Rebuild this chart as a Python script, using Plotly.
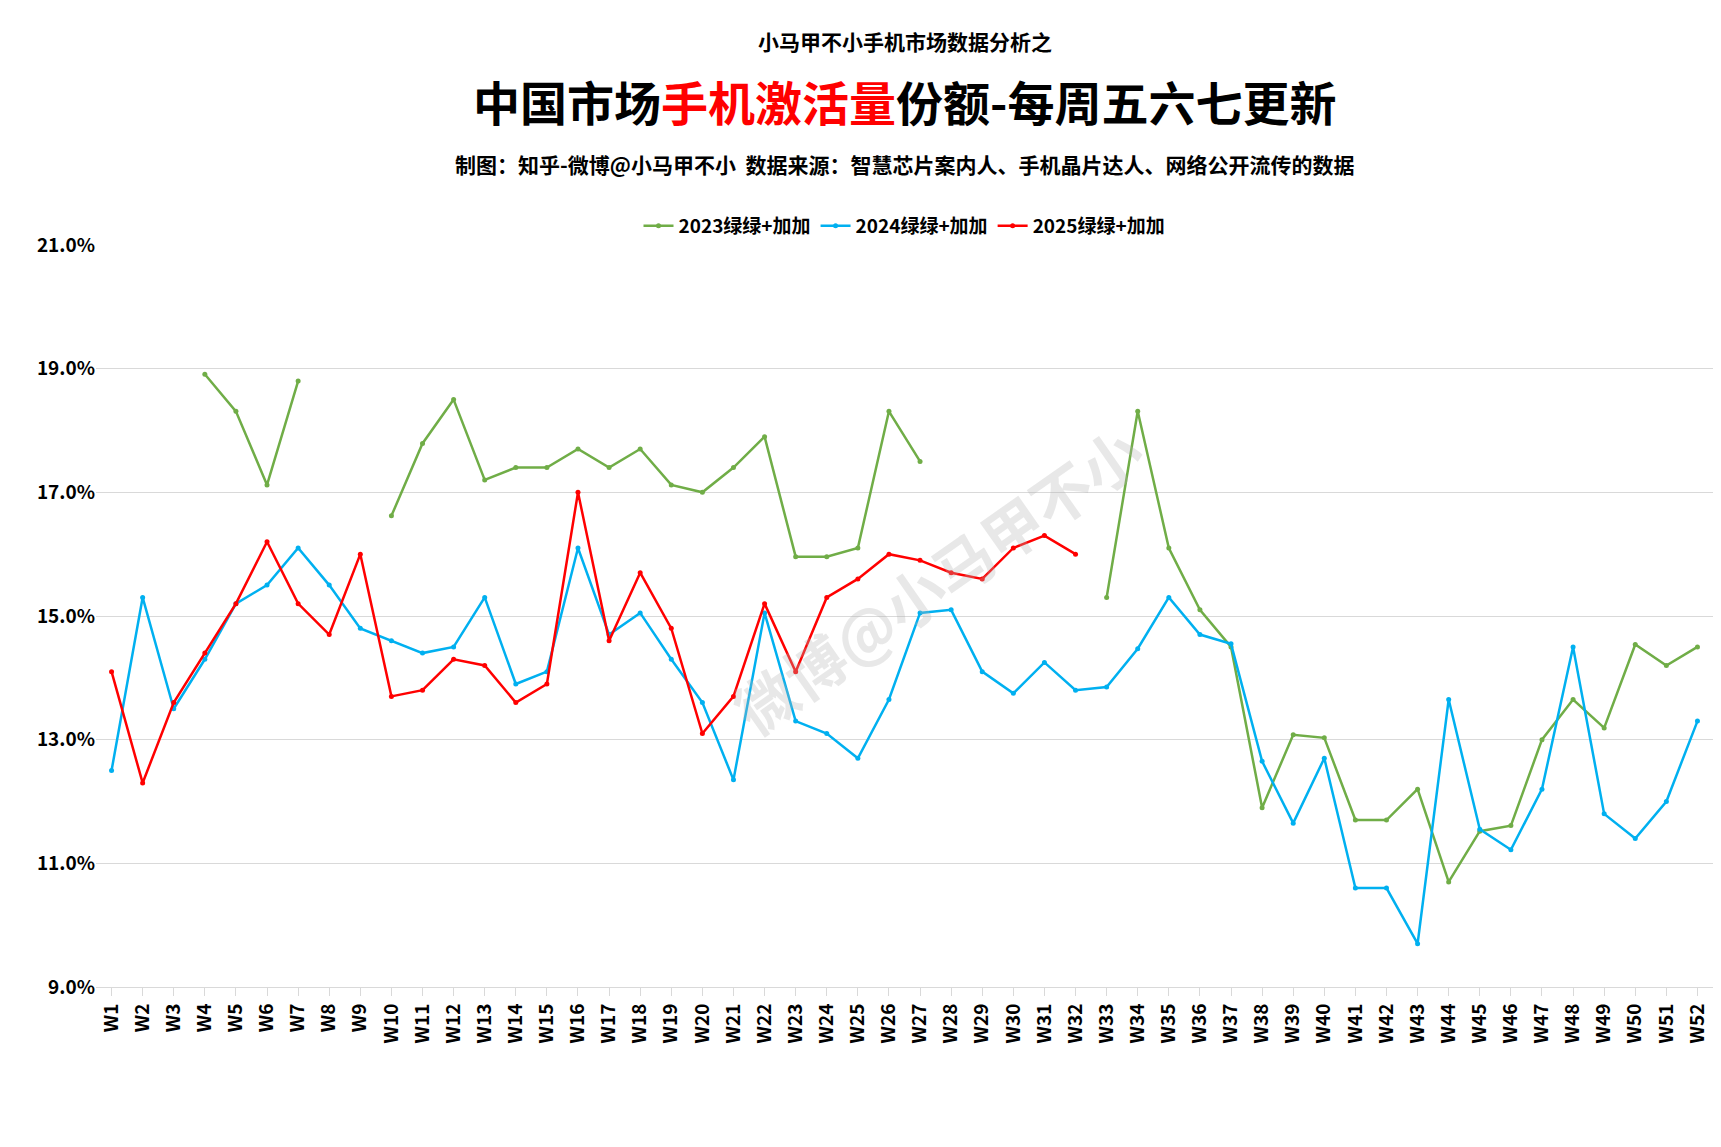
import plotly.graph_objects as go

weeks = ["W%d" % i for i in range(1, 53)]

s2023 = [None, None, None, 18.91, 18.31, 17.12, 18.80, None, None, 16.62,
         17.79, 18.50, 17.20, 17.40, 17.40, 17.70, 17.40, 17.70, 17.12, 17.00,
         17.40, 17.90, 15.96, 15.96, 16.10, 18.31, 17.50, None, None, None,
         None, None, 15.30, 18.31, 16.10, 15.10, 14.50, 11.90, 13.08, 13.03,
         11.70, 11.70, 12.20, 10.70, 11.52, 11.61, 13.00, 13.65, 13.19, 14.54,
         14.20, 14.50]

s2024 = [12.50, 15.30, 13.50, 14.30, 15.20, 15.50, 16.10, 15.50, 14.80, 14.60,
         14.40, 14.50, 15.30, 13.90, 14.10, 16.10, 14.70, 15.05, 14.30, 13.60,
         12.35, 15.05, 13.30, 13.10, 12.70, 13.65, 15.05, 15.10, 14.10, 13.75,
         14.25, 13.80, 13.85, 14.47, 15.30, 14.70, 14.55, 12.65, 11.65, 12.70,
         10.60, 10.60, 9.70, 13.65, 11.55, 11.22, 12.20, 14.50, 11.80, 11.40,
         12.00, 13.30]

s2025 = [14.10, 12.30, 13.60, 14.40, 15.20, 16.20, 15.20, 14.70, 16.00, 13.70,
         13.80, 14.30, 14.20, 13.60, 13.90, 17.00, 14.60, 15.70, 14.80, 13.10,
         13.70, 15.20, 14.10, 15.30, 15.60, 16.00, 15.90, 15.70, 15.60, 16.10,
         16.30, 16.00]

series = [("2023绿绿+加加", s2023, "#70AD47"),
          ("2024绿绿+加加", s2024, "#00B0F0"),
          ("2025绿绿+加加", s2025, "#FF0000")]

font = "Noto Sans CJK SC"
W, H = 1721, 1147
T, B = 237, 168
fig = go.Figure()
for name, vals, color in series:
    fig.add_trace(go.Scatter(
        x=weeks[:len(vals)], y=vals, name=name, mode="lines+markers",
        line=dict(color=color, width=2.5), marker=dict(size=5, color=color),
        connectgaps=False))

ph = H - T - B


def py(pix):
    # pixel from top -> paper y
    return (H - B - pix) / ph


fig.update_layout(
    width=W, height=H,
    plot_bgcolor="white", paper_bgcolor="white",
    margin=dict(l=88, r=16, t=T, b=B),
    font=dict(family=font, color="black"),
    legend=dict(orientation="h", x=0.5, xanchor="center", y=1.0, yanchor="bottom",
                font=dict(size=19, family=font, weight="bold")),
    annotations=[
        dict(text="<b>小马甲不小手机市场数据分析之</b>", x=0.5, y=py(33), yanchor="middle",
             xref="paper", yref="paper", showarrow=False, font=dict(size=21)),
        dict(text="<b>中国市场<span style='color:#FF0000'>手机激活量</span>份额-每周五六七更新</b>",
             x=0.5, y=py(93), yanchor="middle", xref="paper", yref="paper",
             showarrow=False, font=dict(size=47)),
        dict(text="<b>制图：知乎-微博@小马甲不小  数据来源：智慧芯片案内人、手机晶片达人、网络公开流传的数据</b>",
             x=0.5, y=py(156), yanchor="middle", xref="paper", yref="paper",
             showarrow=False, font=dict(size=21)),
        dict(text="<b>微博@小马甲不小</b>", x=0.52, y=0.55, xref="paper", yref="paper",
             showarrow=False, textangle=-35, font=dict(size=60, color="rgba(180,180,180,0.3)")),
    ],
)

fig.update_xaxes(type="category", range=[-0.5, 51.5], tickangle=-90,
                 tickfont=dict(size=19, family=font, weight="bold"),
                 showline=True, linecolor="#d9d9d9", ticks="outside",
                 tickcolor="#d9d9d9", ticklen=8, showgrid=False)
fig.update_yaxes(range=[9, 21], gridcolor="#d9d9d9", zeroline=False,
                 tickfont=dict(size=19, family=font, weight="bold"),
                 tickvals=[9, 11, 13, 15, 17, 19, 21],
                 ticktext=["9.0%", "11.0%", "13.0%", "15.0%", "17.0%", "19.0%", "21.0%"])

fig.write_html("out.html")
